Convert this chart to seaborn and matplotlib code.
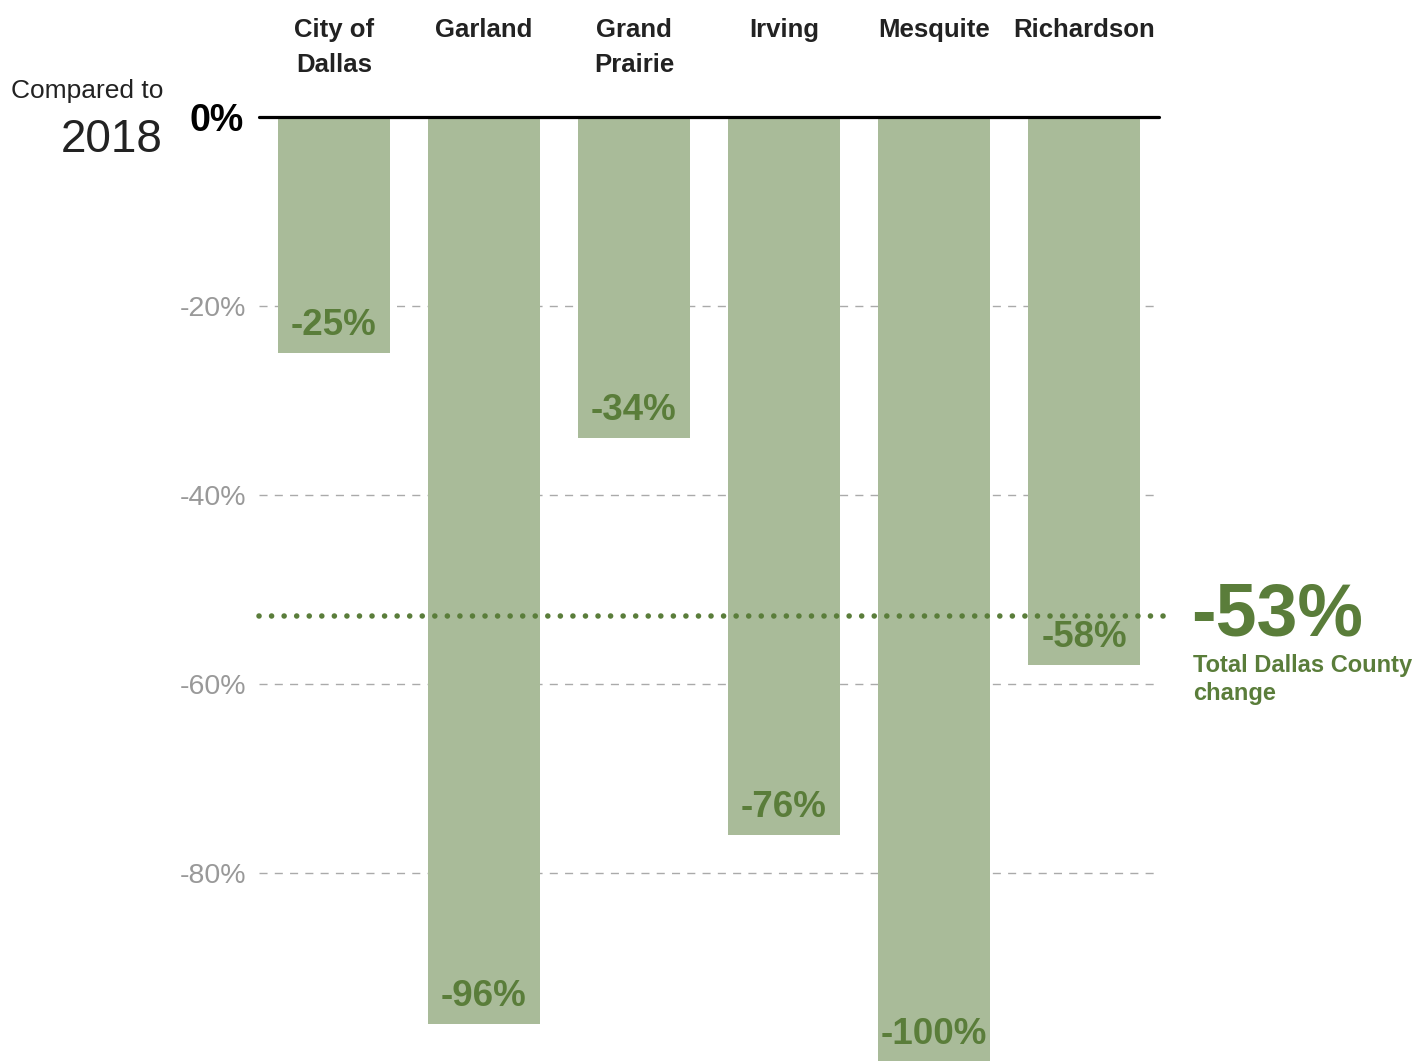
import matplotlib
matplotlib.use("Agg")
import matplotlib.pyplot as plt
import seaborn as sns
import pandas as pd

# data
cities = ["City of\nDallas", "Garland", "Grand\nPrairie", "Irving", "Mesquite", "Richardson"]
changes = [-25, -96, -34, -76, -100, -58]
county_change = -53
grid_ticks = [-20, -40, -60, -80]
grid_labels = ["-20%", "-40%", "-60%", "-80%"]

BAR = "#a9bb99"
GREEN = "#5a7d3a"
GRID = "#aaaaaa"
TICK = "#999999"

sns.set_theme(style="white")
plt.rcParams["font.family"] = ["Liberation Sans", "DejaVu Sans"]

W, H = 1416, 1061
fig = plt.figure(figsize=(W / 100, H / 100), dpi=100)
# axes: zero line at y=117px, -100 at ~1062px, x from 258 to 1158px
ax = fig.add_axes([259 / W, -1 / H, 900 / W, 945 / H])

df = pd.DataFrame({"city": cities, "change": changes})
sns.barplot(data=df, x="city", y="change", color=BAR, saturation=1,
            width=0.747, linewidth=0, ax=ax, zorder=2)

ax.set_xlim(-0.5, 5.5)
ax.set_ylim(-100, 0)
for s in ax.spines.values():
    s.set_visible(False)
ax.set_xticks([])
ax.set_xlabel("")
ax.set_ylabel("")

# dashed gridlines
ax.set_yticks(grid_ticks)
ax.set_yticklabels(grid_labels, color=TICK, fontsize=20.5)
ax.tick_params(axis="y", length=0, pad=9.5)
for t in grid_ticks:
    ax.axhline(t, color=GRID, lw=1.0, linestyle=(0, (5.8, 5.2)), zorder=1)

# zero line
ax.axhline(0, color="black", lw=2.3, zorder=4, clip_on=False)

# value labels inside bars
for i, v in enumerate(changes):
    ax.annotate(f"{v}%", xy=(i, v), xytext=(0, 20), textcoords="offset points",
                ha="center", va="center", fontsize=26.5, fontweight="bold",
                color=GREEN, zorder=5)

# county average dotted line
ax.plot([-0.5, 5.53], [county_change + 0.2] * 2, color=GREEN, lw=4,
        linestyle=(0, (0.01, 2.25)), dash_capstyle="round", solid_capstyle="round",
        clip_on=False, zorder=6)

# category labels on top
for i, name in enumerate(cities):
    for k, line in enumerate(name.split("\n")):
        ax.annotate(line, xy=(i, H - 37 - 35 * k), xycoords=("data", "figure pixels"),
                    ha="center", va="baseline", fontsize=18.5, fontweight="bold",
                    color="#222222", annotation_clip=False)

# left-hand labels
fig.text(163 / W, 1 - 98 / H, "Compared to", ha="right", va="baseline",
         fontsize=19, color="#222222")
fig.text(163 / W, 1 - 152 / H, "2018", ha="right", va="baseline",
         fontsize=33, color="#222222")
fig.text(244 / W, 1 - 131 / H, "0%", ha="right", va="baseline",
         fontsize=27, fontweight="bold", color="black")

# county total annotation
fig.text(1191 / W, 1 - 635 / H, f"{county_change}%", ha="left", va="baseline",
         fontsize=53, fontweight="bold", color=GREEN)
fig.text(1193 / W, 1 - 672 / H, "Total Dallas County", ha="left", va="baseline",
         fontsize=17, fontweight="bold", color=GREEN)
fig.text(1193 / W, 1 - 700 / H, "change", ha="left", va="baseline",
         fontsize=17, fontweight="bold", color=GREEN)

fig.savefig("out.png", dpi=100, facecolor="white")
